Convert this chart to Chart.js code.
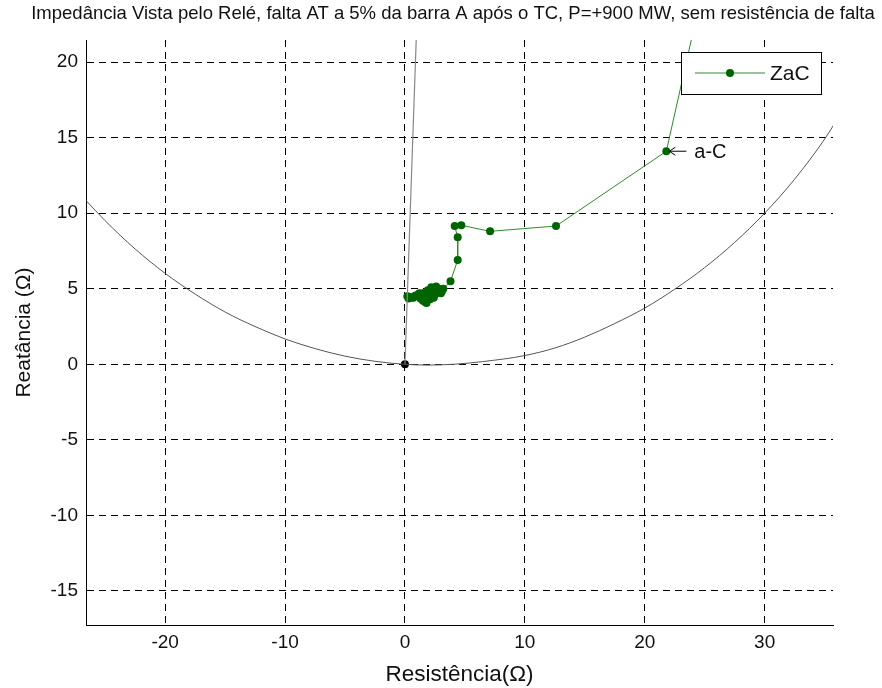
<!DOCTYPE html>
<html>
<head>
<meta charset="utf-8">
<script src="https://cdn.jsdelivr.net/npm/chart.js@4.4.1/dist/chart.umd.min.js"></script>
<style>
  html, body { margin: 0; padding: 0; background: #fff; }
  #wrap { width: 882px; height: 688px; }
</style>
</head>
<body>
<div id="wrap"><canvas id="grafico"></canvas></div>
<script>
// Característica mho (circulo passando pela origem)
const arcR = [-26.6, -25, -22.5, -20, -17.5, -15, -12.5, -10, -7.5, -5, -2.5, 0, 2, 4, 6.5, 10, 12.5, 15, 17.5, 20, 22.5, 25, 27.5, 30, 32.5, 35, 36.5];
const arcX = [10.84, 9.5, 7.63, 6.02, 4.65, 3.46, 2.5, 1.68, 1.04, 0.54, 0.2, 0, -0.05, 0, 0.18, 0.58, 1.08, 1.8, 2.7, 3.72, 4.97, 6.4, 8.07, 10.0, 12.25, 14.9, 16.8];

// Reta da impedancia da linha
const linhaR = [0, 1.05];
const linhaX = [0, 24];

// Trajetoria da impedancia ZaC (da carga ate a falta)
const zacR = [24.6, 21.8, 12.6, 7.1, 4.7, 4.15, 4.4, 4.4, 3.8, 3.2, 3.0, 2.8, 2.6, 2.3, 2.5, 2.0, 1.9, 1.7, 1.6, 1.4, 1.1, 1.2, 0.8, 0.5, 0.2, 0.3, 0.7, 1.0, 1.3, 1.5, 1.8, 2.1, 2.4, 2.7, 2.9, 2.2, 1.5, 0.9, 0.4, 2.6, 3.1];
const zacX = [24.0, 14.1, 9.15, 8.8, 9.2, 9.15, 8.4, 6.9, 5.5, 5.0, 4.7, 5.0, 5.05, 4.9, 4.6, 4.6, 4.9, 4.1, 4.7, 4.5, 4.6, 4.7, 4.5, 4.4, 4.5, 4.35, 4.4, 4.55, 4.35, 4.2, 4.05, 4.3, 4.4, 4.75, 4.9, 5.1, 4.7, 4.55, 4.45, 5.15, 4.85];

// Ponto marcado com seta
const marcaIdx = 1;
const marcaTexto = 'a-C';

const ticksR = [-20, -10, 0, 10, 20, 30];
const ticksX = [-15, -10, -5, 0, 5, 10, 15, 20];

const titulo = 'Impedância Vista pelo Relé, falta AT a 5% da barra A após o TC, P=+900 MW, sem resistência de falta';

function pares(xs, ys) {
  return xs.map((v, i) => ({ x: v, y: ys[i] }));
}

const verde = '#006400';
const fonte = 'Liberation Sans, Arial, sans-serif';

// Titulo no topo da figura
const tituloTopo = {
  id: 'tituloTopo',
  afterDraw(chart) {
    const ctx = chart.ctx;
    ctx.save();
    ctx.fillStyle = '#111';
    ctx.font = '18.5px ' + fonte;
    ctx.textAlign = 'center';
    ctx.textBaseline = 'middle';
    ctx.fillText(titulo, 453, 14);
    ctx.restore();
  }
};

// Legenda com caixa dentro da area do grafico
const legendaCaixa = {
  id: 'legendaCaixa',
  afterDatasetsDraw(chart) {
    const ctx = chart.ctx;
    const area = chart.chartArea;
    const ds = chart.data.datasets[2];
    const w = 140, h = 42;
    const x = area.right - 12 - w;
    const y = area.top + 12;
    ctx.save();
    ctx.fillStyle = '#fff';
    ctx.fillRect(x, y, w, h);
    ctx.strokeStyle = '#000';
    ctx.lineWidth = 1;
    ctx.strokeRect(x + 0.5, y + 0.5, w, h);
    ctx.strokeStyle = ds.borderColor;
    ctx.beginPath();
    ctx.moveTo(x + 14, y + 21);
    ctx.lineTo(x + 84, y + 21);
    ctx.stroke();
    ctx.fillStyle = ds.backgroundColor;
    ctx.beginPath();
    ctx.arc(x + 49, y + 21, 4, 0, Math.PI * 2);
    ctx.fill();
    ctx.fillStyle = '#111';
    ctx.font = '21px ' + fonte;
    ctx.textBaseline = 'middle';
    ctx.fillText(ds.label, x + 89, y + 22);
    ctx.restore();
  }
};

// Seta e texto apontando o ponto a-C
const seta = {
  id: 'seta',
  afterDatasetsDraw(chart) {
    const ctx = chart.ctx;
    const sx = chart.scales.x, sy = chart.scales.y;
    const px = sx.getPixelForValue(zacR[marcaIdx]);
    const py = sy.getPixelForValue(zacX[marcaIdx]);
    ctx.save();
    ctx.strokeStyle = '#000';
    ctx.lineWidth = 1;
    ctx.beginPath();
    ctx.moveTo(px + 20, py);
    ctx.lineTo(px + 3, py);
    ctx.moveTo(px + 9, py - 4);
    ctx.lineTo(px + 3, py);
    ctx.lineTo(px + 9, py + 4);
    ctx.stroke();
    ctx.fillStyle = '#111';
    ctx.font = '20px ' + fonte;
    ctx.textBaseline = 'middle';
    ctx.fillText(marcaTexto, px + 28, py + 1);
    ctx.restore();
  }
};

new Chart(document.getElementById('grafico'), {
  type: 'scatter',
  data: {
    datasets: [
      {
        label: 'mho',
        data: pares(arcR, arcX),
        showLine: true,
        borderColor: '#555',
        borderWidth: 1,
        pointRadius: 0,
        cubicInterpolationMode: 'monotone'
      },
      {
        label: 'linha',
        data: pares(linhaR, linhaX),
        showLine: true,
        borderColor: '#888',
        borderWidth: 1.2,
        pointRadius: 0
      },
      {
        label: 'ZaC',
        data: pares(zacR, zacX),
        showLine: true,
        borderColor: '#2e8b2e',
        backgroundColor: verde,
        borderWidth: 1,
        pointRadius: 4,
        pointBorderWidth: 0,
        pointBackgroundColor: verde
      },
      {
        label: 'origem',
        data: [{ x: 0, y: 0 }],
        pointRadius: 4,
        pointBorderWidth: 0,
        pointBackgroundColor: '#000'
      }
    ]
  },
  options: {
    responsive: true,
    maintainAspectRatio: false,
    animation: false,
    layout: { padding: { left: 0, right: 49, top: 40, bottom: 0 } },
    plugins: {
      legend: { display: false },
      tooltip: { enabled: false },
      title: { display: false }
    },
    scales: {
      x: {
        type: 'linear',
        min: -26.6,
        max: 35.7,
        afterBuildTicks(scale) { scale.ticks = ticksR.map(v => ({ value: v })); },
        afterFit(scale) { scale.height = 63; },
        ticks: { color: '#111', font: { family: fonte, size: 19 }, padding: 6, includeBounds: false },
        grid: { color: '#000', lineWidth: 1, drawTicks: false },
        border: { display: true, color: '#000', width: 1, dash: [7, 5] },
        title: {
          display: true,
          text: 'Resistência(Ω)',
          color: '#111',
          font: { family: fonte, size: 22.5 },
          padding: { top: 0, bottom: 0 }
        }
      },
      y: {
        type: 'linear',
        min: -17.25,
        max: 21.46,
        afterBuildTicks(scale) { scale.ticks = ticksX.map(v => ({ value: v })); },
        afterFit(scale) { scale.width = 86; },
        ticks: { color: '#111', font: { family: fonte, size: 19 }, padding: 8, includeBounds: false },
        grid: { color: '#000', lineWidth: 1, drawTicks: false },
        border: { display: true, color: '#000', width: 1, dash: [7, 5] },
        title: {
          display: true,
          text: 'Reatância (Ω)',
          color: '#111',
          font: { family: fonte, size: 21 },
          padding: { top: 12, bottom: 0 }
        }
      }
    }
  },
  plugins: [tituloTopo, legendaCaixa, seta]
});
</script>
</body>
</html>
